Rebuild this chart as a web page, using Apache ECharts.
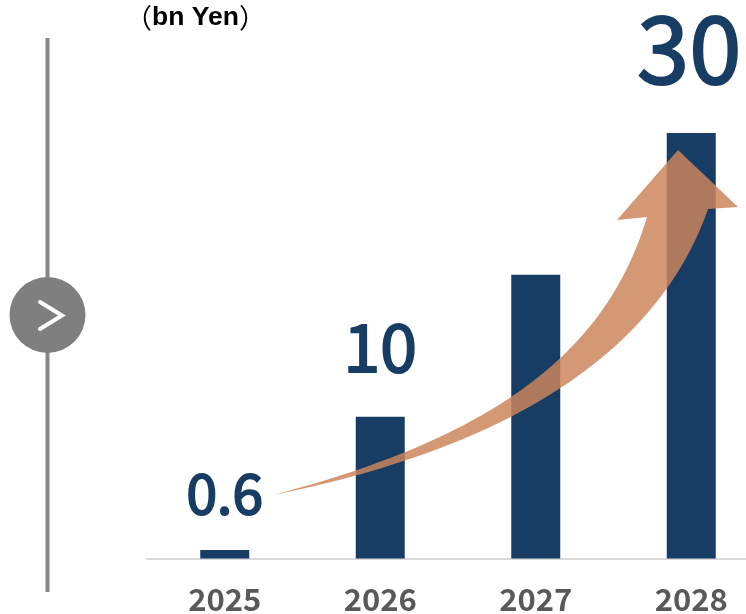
<!DOCTYPE html>
<html>
<head>
<meta charset="utf-8">
<style>html,body{margin:0;padding:0;background:#fff}#chart{width:746px;height:614px}</style>
<script src="https://cdn.jsdelivr.net/npm/echarts@6/dist/echarts.min.js"></script>
</head>
<body>
<div id="chart"></div>
<script>
const years = ['2025', '2026', '2027', '2028'];
const revenue = [0.6, 10, 20, 30];
const valueLabels = ['0.6', '10', null, '30'];
const labelSizes = [55, 66, 66, 94];
const labelGaps = [29, 37, 0, 38];
const labelShifts = [0, 0, 0, -2];

const NAVY = '#173d65';

// Growth arrow outline in canvas pixels: two cubic edges joined by the head
const arrowUpper = [[273,495],[503,435],[608,347],[647,217]];
const arrowHead = [[617,220],[678,150],[738,207]];
const arrowLower = [[708,209],[661,344],[523,445],[273,495]];

// Flatten a cubic Bezier into short segments for the polygon
function flatten(c) {
  const out = [];
  for (let k = 0; k <= 48; k++) {
    const t = k / 48, u = 1 - t;
    out.push([0, 1].map(a => u*u*u*c[0][a] + 3*u*u*t*c[1][a] + 3*u*t*t*c[2][a] + t*t*t*c[3][a]));
  }
  return out;
}
const arrowOutline = [...flatten(arrowUpper), ...arrowHead, ...flatten(arrowLower)];

const chart = echarts.init(document.getElementById('chart'), null, { renderer: 'canvas' });
chart.setOption({
  animation: false,
  backgroundColor: '#fff',
  title: {
    text: '{p|（}{b|bn Yen}{p|）}',
    left: 120,
    top: -1,
    textStyle: {
      rich: {
        p: { fontFamily: '"Noto Sans CJK JP", sans-serif', fontSize: 27, fontWeight: 'normal', color: '#000' },
        b: { fontFamily: '"Liberation Sans", sans-serif', fontSize: 26.5, fontWeight: 'bold', color: '#000' }
      }
    }
  },
  grid: { left: 147, right: -23, top: 133, bottom: 55.5, outerBoundsMode: 'none', containLabel: false },
  xAxis: {
    type: 'category',
    data: years,
    axisLine: { lineStyle: { color: '#d9d9d9', width: 2 } },
    axisTick: { show: false },
    axisLabel: {
      margin: 25,
      fontFamily: '"Noto Sans CJK JP", sans-serif',
      fontSize: 31,
      fontWeight: 'bold',
      color: '#595959'
    }
  },
  yAxis: { type: 'value', min: 0, max: 30, show: false, splitLine: { show: false } },
  series: [{
    type: 'bar',
    barWidth: 49,
    itemStyle: { color: NAVY },
    data: revenue.map((v, i) => ({
      value: v,
      label: {
        show: valueLabels[i] !== null,
        position: 'top',
        distance: labelGaps[i],
        offset: [labelShifts[i], 0],
        formatter: valueLabels[i] || '',
        fontFamily: '"Noto Sans CJK JP", sans-serif',
        fontWeight: 'normal',
        fontSize: labelSizes[i],
        color: NAVY,
        textBorderColor: NAVY,
        textBorderWidth: 2
      }
    }))
  }],
  graphic: [
    { type: 'line', z: 5, shape: { x1: 47.5, y1: 38, x2: 47.5, y2: 592 }, style: { stroke: '#868686', lineWidth: 4 } },
    { type: 'circle', z: 6, shape: { cx: 47.5, cy: 315, r: 38 }, style: { fill: '#7f7f7f' } },
    { type: 'polyline', z: 7, shape: { points: [[40, 302], [62, 315.5], [40, 329]] },
      style: { stroke: '#fff', lineWidth: 4, lineCap: 'round', lineJoin: 'miter', fill: null } },
    { type: 'polygon', z: 10, shape: { points: arrowOutline }, style: { fill: 'rgba(204,133,91,0.845)' } }
  ]
});
</script>
</body>
</html>
